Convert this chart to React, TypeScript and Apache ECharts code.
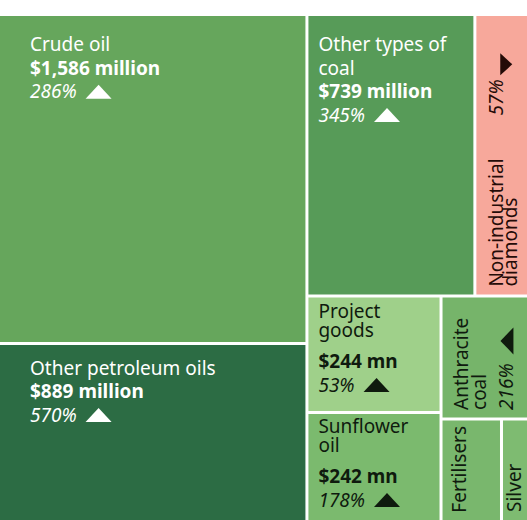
import React, { useEffect, useRef } from 'react';
import * as echarts from 'echarts';

// ---------------- Data ----------------
const categories = [
  'Crude oil',
  'Other petroleum oils',
  'Other types of coal',
  'Non-industrial diamonds',
  'Project goods',
  'Sunflower oil',
  'Anthracite coal',
  'Fertilisers',
  'Silver',
];
const valuesMn = [1586, 889, 739, 236, 244, 242, 168, 103, 46];
const changePct: (number | null)[] = [286, 570, 345, -57, 53, 178, 216, null, null];

// Slicing structure of the treemap (indices into categories)
type Tree = number | { dir: 'row' | 'col'; children: Tree[] };
const layoutTree: Tree = {
  dir: 'row',
  children: [
    { dir: 'col', children: [0, 1] },
    {
      dir: 'col',
      children: [
        { dir: 'row', children: [2, 3] },
        {
          dir: 'row',
          children: [
            { dir: 'col', children: [4, 5] },
            { dir: 'col', children: [6, { dir: 'row', children: [7, 8] }] },
          ],
        },
      ],
    },
  ],
};

// ---------------- Styles ----------------
const cellColors = ['#66a65c', '#2c6c44', '#579b58', '#f7a89b', '#9fd08a', '#7bba6e', '#76b46a', '#79b76d', '#7ebb71'];
const textColors = ['#ffffff', '#ffffff', '#ffffff', '#240b07', '#0f1a0e', '#0f1a0e', '#0f1a0e', '#0f1a0e', '#0f1a0e'];
const labelModes = ['big', 'big', 'big', 'vinline', 'small', 'small', 'vert', 'vert', 'vert'];
// [padding along reading direction, first baseline offset across]
const labelPad: [number, number][] = [
  [30, 35.7], [30, 30], [10, 35.5], [8, 26.9], [10, 20.4], [10, 19], [7.5, 25.8], [13.8, 24.2], [14.5, 18.7],
];
const GAP = 3;
const FONT = '"Noto Sans", "Open Sans", sans-serif';
const F_REG = `normal 400 19px ${FONT}`;
const F_BOLD = `normal 700 19px ${FONT}`;
const F_IT = `italic 400 19px ${FONT}`;
const CENTRAL = 7.4; // baseline offset below central baseline

let measureCtx: CanvasRenderingContext2D | null = null;
function textWidth(text: string, font: string): number {
  if (!measureCtx) measureCtx = document.createElement('canvas').getContext('2d');
  if (!measureCtx) return text.length * 10;
  measureCtx.font = font;
  return measureCtx.measureText(text).width;
}
function wrap(text: string, font: string, maxLen: number): string[] {
  const words = text.split(' ');
  const lines: string[] = [];
  let cur = '';
  words.forEach((wd) => {
    const t = cur ? cur + ' ' + wd : wd;
    if (cur && textWidth(t, font) > maxLen) {
      lines.push(cur);
      cur = wd;
    } else cur = t;
  });
  if (cur) lines.push(cur);
  return lines;
}

function sumTree(t: Tree): number {
  return typeof t === 'number' ? valuesMn[t] : t.children.reduce((s, c) => s + sumTree(c), 0);
}
function layoutTreemap(t: Tree, x0: number, y0: number, x1: number, y1: number, out: number[][]) {
  if (typeof t === 'number') {
    out[t] = [x0, y0, x1, y1];
    return;
  }
  const total = sumTree(t);
  let acc = 0;
  t.children.forEach((c) => {
    const v = sumTree(c);
    if (t.dir === 'row') {
      layoutTreemap(c, x0 + ((x1 - x0) * acc) / total, y0, x0 + ((x1 - x0) * (acc + v)) / total, y1, out);
    } else {
      layoutTreemap(c, x0, y0 + ((y1 - y0) * acc) / total, x1, y0 + ((y1 - y0) * (acc + v)) / total, out);
    }
    acc += v;
  });
}

function renderCell(params: any, api: any) {
  const i = api.value(4) as number;
  const p0 = api.coord([api.value(0), api.value(1)]);
  const p1 = api.coord([api.value(2), api.value(3)]);
  const x = p0[0] + GAP / 2;
  const y = p0[1] + GAP / 2;
  const w = p1[0] - p0[0] - GAP;
  const h = p1[1] - p0[1] - GAP;
  const children: any[] = [
    { type: 'rect', shape: { x, y, width: w, height: h }, style: { fill: cellColors[i] }, silent: true },
  ];
  const mode = labelModes[i];
  const vertical = mode === 'vert' || mode === 'vinline';
  const [padAlong, base0] = labelPad[i];
  const fill = textColors[i];
  const map = vertical
    ? (u: number, v: number) => [x + v, y + h - padAlong - u]
    : (u: number, v: number) => [x + padAlong + u, y + v];
  const rot = vertical ? Math.PI / 2 : 0;
  const avail = (vertical ? h : w) - padAlong - 12;

  // Text block: one or more lines, first baseline at b, line spacing lh
  const addText = (lines: string[], font: string, u: number, b: number, lh = 16) => {
    const topCenter = b - CENTRAL;
    const pt = map(u, topCenter - lh / 2);
    children.push({
      type: 'text',
      x: pt[0],
      y: pt[1],
      rotation: rot,
      silent: true,
      style: {
        text: lines.join('\n'),
        font,
        fill,
        lineHeight: lh,
        align: 'left',
        verticalAlign: 'top',
        textAlign: 'left',
        textVerticalAlign: 'top',
      },
    });
  };
  const addTri = (u0: number, b: number, up: boolean, L: number, H: number, drop: number) => {
    const pts = up
      ? [map(u0, b), map(u0 + L, b), map(u0 + L / 2, b - H)]
      : [map(u0, b - H + drop), map(u0 + L, b - H + drop), map(u0 + L / 2, b + drop)];
    children.push({ type: 'polygon', shape: { points: pts }, style: { fill }, silent: true });
  };

  const pct = changePct[i];
  const pctText = pct == null ? '' : `${Math.abs(pct)}%`;
  const up = pct != null && pct >= 0;
  const valText = `$${valuesMn[i].toLocaleString('en-US')} ${mode === 'big' ? 'million' : 'mn'}`;

  if (mode === 'big' || mode === 'small') {
    const lhName = mode === 'big' ? 23.5 : 19;
    const gapVal = mode === 'big' ? 23.5 : 31;
    const lhPct = mode === 'big' ? 23.5 : 24;
    const names = wrap(categories[i], F_REG, avail);
    let b = base0;
    addText(names, F_REG, 0, b, lhName);
    b += lhName * (names.length - 1);
    b += gapVal;
    addText([valText], F_BOLD, 0, b);
    if (pctText) {
      b += lhPct;
      addText([pctText], F_IT, 0, b);
      addTri(textWidth(pctText, F_IT) + 9, b, up, 26, 14, 0);
    }
  } else if (mode === 'vert') {
    const names = wrap(categories[i], F_REG, avail);
    let b = base0;
    addText(names, F_REG, 0, b, 18.5);
    b += 18.5 * (names.length - 1);
    if (pctText) {
      b += 26.6;
      addText([pctText], F_IT, 0, b);
      addTri(textWidth(pctText, F_IT) + 9, b, up, 27, 13, 0);
    }
  } else if (mode === 'vinline') {
    const pw = textWidth(pctText, F_IT);
    const names = wrap(categories[i], F_REG, avail - pw - 26 - 26);
    addText(names, F_REG, 0, base0, 14.5);
    if (pctText) {
      const u = textWidth(names[0], F_REG) + 43;
      addText([pctText], F_IT, u, base0);
      addTri(u + pw + 4, base0, up, 22, 12, 9);
    }
  }
  return { type: 'group', children };
}

export default function App() {
  const ref = useRef<HTMLDivElement>(null);
  useEffect(() => {
    if (!ref.current) return;
    const chart = echarts.init(ref.current, undefined, { renderer: 'svg' });
    const rects: number[][] = [];
    layoutTreemap(layoutTree, 0, 0, 1, 1, rects);
    const data = rects.map((r, i) => [r[0], r[1], r[2], r[3], i]);
    chart.setOption({
      animation: false,
      backgroundColor: '#ffffff',
      grid: {
        left: -1.5,
        top: 14.5,
        width: 530,
        height: 513.5,
        containLabel: false,
        outerBoundsMode: 'none',
      },
      xAxis: { type: 'value', min: 0, max: 1, show: false },
      yAxis: { type: 'value', min: 0, max: 1, inverse: true, show: false },
      series: [
        {
          type: 'custom',
          coordinateSystem: 'cartesian2d',
          name: 'Exports',
          data,
          renderItem: renderCell,
          clip: false,
          encode: { x: [0, 2], y: [1, 3] },
        },
      ],
    });
    return () => chart.dispose();
  }, []);
  return (
    <div
      ref={ref}
      style={{ position: 'absolute', left: 0, top: 0, width: 527, height: 520 }}
    />
  );
}
